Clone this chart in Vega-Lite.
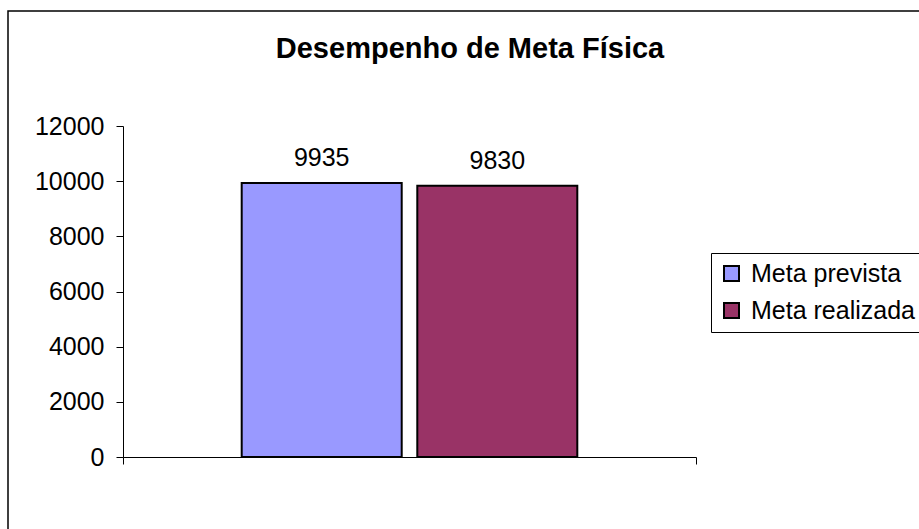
{
  "$schema": "https://vega.github.io/schema/vega-lite/v6.json",
  "width": 916,
  "height": 523,
  "autosize": {"type": "none"},
  "padding": {"left": 8, "top": 11, "right": -5, "bottom": -5},
  "background": "white",
  "config": {
    "view": {"stroke": "#000", "strokeWidth": 1.5},
    "font": "Liberation Sans"
  },
  "title": {
    "text": "Desempenho de Meta Física",
    "fontSize": 29,
    "fontWeight": "bold",
    "color": "#000",
    "anchor": "middle",
    "baseline": "alphabetic",
    "offset": -76,
    "dx": 4
  },
  "data": {
    "values": [
      {"cat": "Desempenho", "serie": "Meta prevista", "valor": 9935},
      {"cat": "Desempenho", "serie": "Meta realizada", "valor": 9830}
    ]
  },
  "encoding": {
    "x": {
      "field": "cat",
      "type": "nominal",
      "scale": {"range": [115, 688], "paddingInner": 0, "paddingOuter": 0},
      "axis": {
        "labels": false,
        "title": null,
        "tickBand": "extent",
        "tickSize": 7,
        "domainColor": "#000",
        "tickColor": "#000",
        "offset": -77,
        "grid": false
      }
    },
    "xOffset": {
      "field": "serie",
      "type": "nominal",
      "scale": {"paddingInner": 0.0888, "paddingOuter": 0.676}
    },
    "y": {
      "field": "valor",
      "type": "quantitative",
      "scale": {"domain": [0, 12000], "range": [446, 115], "nice": false, "zero": true},
      "axis": {
        "values": [0, 2000, 4000, 6000, 8000, 10000, 12000],
        "format": "d",
        "grid": false,
        "offset": -115,
        "title": null,
        "tickSize": 7,
        "labelFontSize": 25,
        "labelPadding": 12,
        "domainColor": "#000",
        "tickColor": "#000",
        "labelColor": "#000"
      }
    }
  },
  "layer": [
    {
      "mark": {"type": "bar", "stroke": "#000", "strokeWidth": 2},
      "encoding": {
        "color": {
          "field": "serie",
          "type": "nominal",
          "scale": {"range": ["#9999FF", "#993366"]},
          "legend": {
            "title": null,
            "orient": "none",
            "legendX": 703,
            "legendY": 242,
            "strokeColor": "#000",
            "fillColor": "white",
            "padding": 8,
            "symbolType": "square",
            "symbolSize": 225,
            "symbolStrokeColor": "#000",
            "symbolStrokeWidth": 2,
            "labelFontSize": 25,
            "labelOffset": 7,
            "labelLimit": 400,
            "labelColor": "#000",
            "rowPadding": 11
          }
        }
      }
    },
    {
      "mark": {"type": "text", "dy": -17, "baseline": "alphabetic", "fontSize": 25, "color": "#000"},
      "encoding": {"text": {"field": "valor", "type": "quantitative", "format": "d"}}
    }
  ]
}
